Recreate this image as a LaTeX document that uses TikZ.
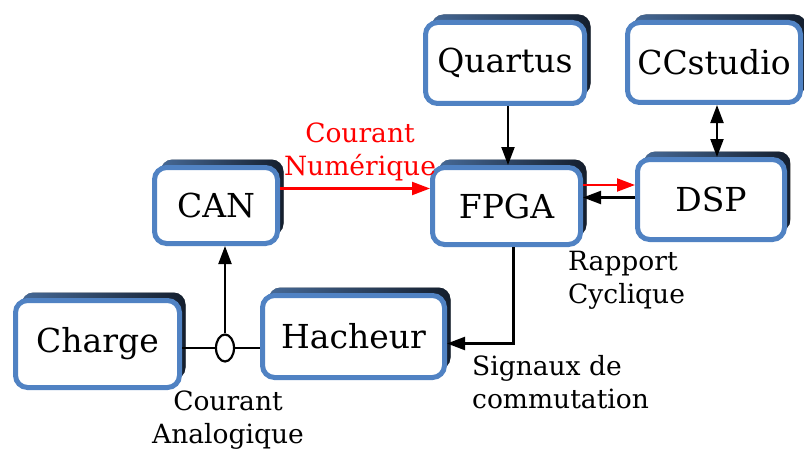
\documentclass[tikz,border=0pt]{standalone}
\usepackage{fontspec}
\setmainfont{DejaVu Serif}
\usetikzlibrary{shadows,arrows.meta,calc,shapes.geometric}
\definecolor{bxblue}{RGB}{80,130,195}
\definecolor{shdA}{RGB}{70,105,150}
\definecolor{shdB}{RGB}{20,30,45}
\begin{document}
\begin{tikzpicture}[x=1pt,y=-1pt,
  blk/.style={draw=bxblue, line width=5pt, fill=white, rounded corners=12pt, inner sep=0pt,
    font=\fontsize{33}{40}\selectfont,
    drop shadow={shadow xshift=6pt, shadow yshift=8pt, opacity=1, left color=shdA, right color=shdB}},
  tip/.tip={Triangle[length=18pt,width=13pt]},
  arr/.style={-tip, line width=2.2pt},
  lbl/.style={inner sep=0pt, font=\fontsize{26.5}{33}\selectfont}]
\useasboundingbox (0,0) rectangle (804,452);

\node[blk, minimum width=159pt, minimum height=81pt] (Q) at (505,63) {Quartus};
\node[blk, minimum width=173pt, minimum height=80pt] (CC) at (714,62.5) {CCstudio};
\node[blk, minimum width=148pt, minimum height=77pt] (F) at (506.5,206) {FPGA};
\node[blk, minimum width=147pt, minimum height=80pt] (D) at (711,199.5) {DSP};
\node[blk, minimum width=123pt, minimum height=76pt] (C) at (216,205.5) {CAN};
\node[blk, minimum width=164pt, minimum height=87pt] (Ch) at (97.5,344) {Charge};
\node[blk, minimum width=182pt, minimum height=82pt] (H) at (353.5,336.5) {Hacheur};

\node[draw, line width=2.2pt, fill=white, ellipse, minimum width=18pt, minimum height=27pt, inner sep=0pt] (E) at (225,348) {};

% connectors
\draw[arr] ([xshift=3pt]Q.south) -- ([xshift=3pt]Q.south |- F.north);
\draw[arr, tip-tip] ([xshift=3pt]CC.south) -- ([xshift=3pt]CC.south |- D.north);
\draw[arr, red] ([yshift=21pt]F.east) -- ([yshift=21pt]F.east -| D.west);
\draw[arr] ([yshift=2pt]D.west) -- ([yshift=2pt]D.west -| F.east);
\draw[arr, red] ([yshift=17pt]C.east) -- ([yshift=17pt]C.east -| F.west);
\draw[arr] ([xshift=7pt]F.south) |- ([yshift=-7pt]H.east);
\draw[line width=2.2pt] (E.west) -- (E.west -| Ch.east);
\draw[line width=2.2pt] (E.east) -- (E.east -| H.west);
\draw[arr] (E.north) -- (E.north |- C.south);

% labels
\node[lbl, red, align=center] (ln) at (360,152) {Courant\\Numérique};
\node[lbl, align=left, anchor=west] (lr) at (568,280) {Rapport\\Cyclique};
\node[lbl, align=left, anchor=west] (ls) at (472,382) {Signaux de\\commutation};
\node[lbl, align=center] (la) at (228,420) {Courant\\Analogique};
\end{tikzpicture}
\end{document}
